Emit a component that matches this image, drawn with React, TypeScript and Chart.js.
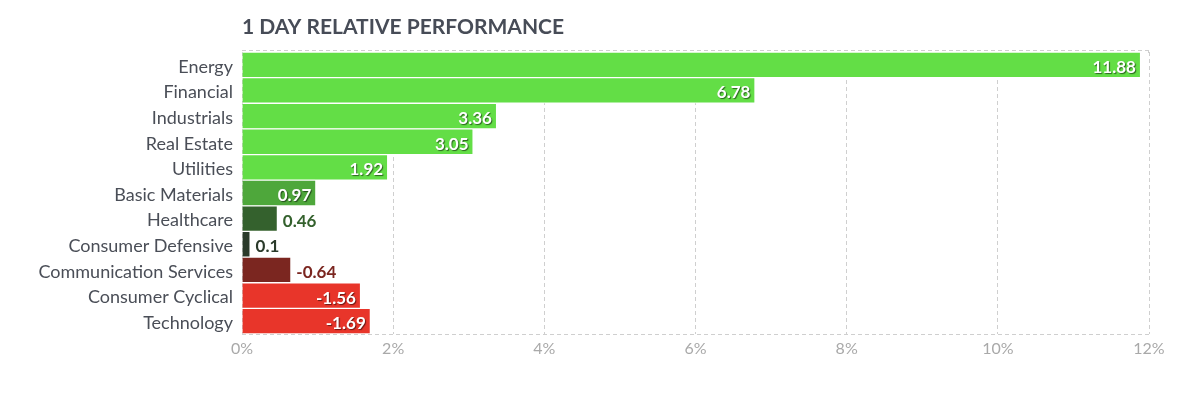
import React, { useEffect, useRef } from "react";
import { Chart, registerables } from "chart.js";

Chart.register(...registerables);

const categories = [
  "Energy",
  "Financial",
  "Industrials",
  "Real Estate",
  "Utilities",
  "Basic Materials",
  "Healthcare",
  "Consumer Defensive",
  "Communication Services",
  "Consumer Cyclical",
  "Technology",
];
const values = [11.88, 6.78, 3.36, 3.05, 1.92, 0.97, 0.46, 0.1, -0.64, -1.56, -1.69];
const barColors = [
  "#63de46",
  "#63de46",
  "#63de46",
  "#63de46",
  "#63de46",
  "#4ea73b",
  "#34612d",
  "#2a3a2a",
  "#7b2620",
  "#e8352a",
  "#e8352a",
];
const xTicks = [0, 2, 4, 6, 8, 10, 12];
const title = "1 DAY RELATIVE PERFORMANCE";

const FONT = "Lato, 'Open Sans', sans-serif";

const framePlugin = {
  id: "frame",
  beforeDatasetsDraw(chart: any) {
    const { ctx, chartArea } = chart;
    ctx.save();
    ctx.strokeStyle = "#cfcfcf";
    ctx.lineWidth = 1;
    ctx.setLineDash([4, 3]);
    ctx.beginPath();
    ctx.moveTo(chartArea.left, chartArea.top - 1.5);
    ctx.lineTo(chartArea.right, chartArea.top - 1.5);
    ctx.moveTo(chartArea.left, chartArea.bottom + 0.5);
    ctx.lineTo(chartArea.right, chartArea.bottom + 0.5);
    ctx.moveTo(chartArea.right - 0.5, chartArea.top - 1.5);
    ctx.lineTo(chartArea.right - 0.5, chartArea.top + 1);
    ctx.stroke();
    ctx.restore();
  },
  afterDraw(chart: any) {
    const { ctx, chartArea } = chart;
    ctx.save();
    ctx.font = `bold 21px ${FONT}`;
    ctx.fillStyle = "#474c57";
    ctx.textAlign = "left";
    ctx.textBaseline = "alphabetic";
    ctx.fillText(title, chartArea.left, 26);
    ctx.restore();
  },
};

const labelPlugin = {
  id: "valueLabels",
  afterDatasetsDraw(chart: any) {
    const { ctx } = chart;
    const meta = chart.getDatasetMeta(0);
    ctx.save();
    ctx.font = `bold 17px ${FONT}`;
    ctx.textBaseline = "middle";
    meta.data.forEach((bar: any, i: number) => {
      const text = String(values[i]);
      const w = ctx.measureText(text).width;
      const barW = bar.x - bar.base;
      if (w + 14 <= barW) {
        ctx.save();
        ctx.textAlign = "right";
        ctx.shadowColor = "rgba(0,0,0,0.55)";
        ctx.shadowOffsetX = 1;
        ctx.shadowOffsetY = 1;
        ctx.shadowBlur = 1;
        ctx.fillStyle = "#ffffff";
        ctx.fillText(text, bar.x - 4, bar.y + 2.5);
        ctx.restore();
      } else {
        ctx.textAlign = "left";
        ctx.fillStyle = barColors[i];
        ctx.fillText(text, bar.x + 6, bar.y + 2.5);
      }
    });
    ctx.restore();
  },
};

export default function App() {
  const ref = useRef<HTMLCanvasElement | null>(null);

  useEffect(() => {
    if (!ref.current) return;
    const chart = new Chart(ref.current, {
      type: "bar",
      data: {
        labels: categories,
        datasets: [
          {
            data: values.map((v) => Math.abs(v)),
            backgroundColor: barColors,
            borderColor: "#ffffff",
            borderWidth: { top: 1, bottom: 1, left: 0, right: 0 },
            borderSkipped: false,
            barPercentage: 1,
            categoryPercentage: 1,
          },
        ],
      },
      options: {
        indexAxis: "y",
        animation: false,
        responsive: true,
        maintainAspectRatio: false,
        layout: { padding: { left: 0, right: 43, top: 44, bottom: 22 } },
        plugins: {
          legend: { display: false },
          tooltip: { enabled: false },
          title: { display: false },
        },
        scales: {
          x: {
            min: 0,
            max: 12,
            afterBuildTicks: (scale: any) => {
              scale.ticks = xTicks.map((v) => ({ value: v }));
            },
            afterFit: (scale: any) => {
              scale.height = 30;
            },
            grid: {
              color: "#cfcfcf",
              drawTicks: false,
              lineWidth: 1,
            },
            border: { display: false, dash: [4, 3] },
            ticks: {
              padding: 5,
              color: "#a9a9a9",
              font: { family: FONT, size: 16 },
              callback: (v: any) => `${v}%`,
              maxRotation: 0,
            },
          },
          y: {
            afterFit: (scale: any) => {
              scale.width = 234;
            },
            grid: { display: false, drawTicks: false },
            border: { display: false },
            ticks: {
              padding: 9,
              labelOffset: 2,
              color: "#4a4e57",
              font: { family: FONT, size: 18 },
              autoSkip: false,
            },
          },
        },
      },
      plugins: [framePlugin, labelPlugin],
    });
    return () => chart.destroy();
  }, []);

  return (
    <div style={{ width: 1184, height: 378, position: "relative" }}>
      <canvas ref={ref} />
    </div>
  );
}
